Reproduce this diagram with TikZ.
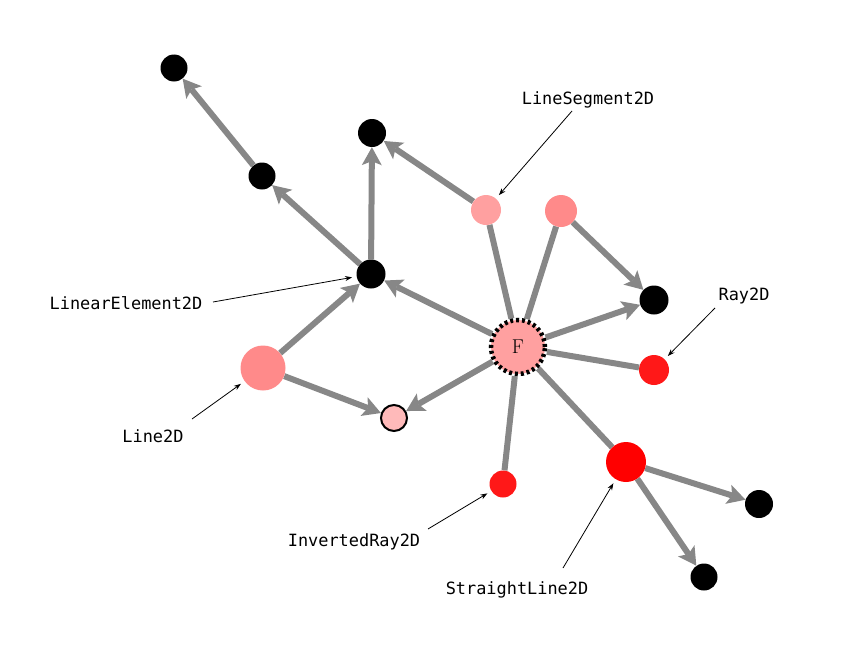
\documentclass[tikz,border=0pt]{standalone}
\usepackage{fontspec}
\newfontfamily\monof{DejaVu Sans Mono}
\usetikzlibrary{arrows.meta}
\definecolor{edgegray}{HTML}{878787}
\definecolor{lightpink}{HTML}{FFA0A0}
\definecolor{midpink}{HTML}{FF8A8A}
\definecolor{palepink}{HTML}{FFBABA}
\definecolor{redA}{HTML}{FF1818}
\definecolor{redB}{HTML}{FF0000}
\pgfdeclarelayer{bg}
\pgfsetlayers{bg,main}
\begin{document}
\begin{tikzpicture}[x=1pt,y=-1pt,
  vtx/.style={circle,inner sep=0pt,draw=none},
  blk/.style={vtx,fill=black,minimum size=27pt},
  edge/.style={draw=edgegray,line width=6pt,-{Stealth[length=18pt,width=20pt,inset=4pt,line width=0pt]}},
  plain/.style={draw=edgegray,line width=6pt},
  lbl/.style={font=\monof\fontsize{16.9}{20}\selectfont,inner sep=0pt,text height=12pt,text depth=0pt},
  pointer/.style={draw=black,line width=0.8pt,shorten >=4.5pt,-{Stealth[length=7pt,width=5pt]}}]
\useasboundingbox (0,0) rectangle (842,661);
% nodes
\node[blk] (n1) at (174,68) {};
\node[blk] (n2) at (262,176) {};
\node[blk,minimum size=28pt] (n3) at (372,133) {};
\node[blk,minimum size=29pt] (le) at (371,274) {};
\node[vtx,fill=lightpink,minimum size=30pt] (ls) at (486,210) {};
\node[vtx,fill=midpink,minimum size=32pt] (p2) at (561,211) {};
\node[blk,minimum size=29pt] (b4) at (654,300) {};
\node[circle,inner sep=0pt,minimum size=54pt,fill=lightpink,draw=black,line width=4.5pt,dash pattern=on 3pt off 2.9pt,font=\fontsize{20}{22}\selectfont] (F) at (518,347) {F};
\node[vtx,fill=redA,minimum size=30pt] (ray) at (654,370) {};
\node[vtx,fill=midpink,minimum size=45pt] (l2d) at (263,368) {};
\node[vtx,fill=palepink,draw=black,line width=2pt,minimum size=26pt] (out) at (394,418) {};
\node[vtx,fill=redA,minimum size=27pt] (ir) at (503,484) {};
\node[vtx,fill=redB,minimum size=40pt] (sl) at (626,462) {};
\node[blk,minimum size=28pt] (b5) at (759,504) {};
\node[blk] (b6) at (704,577) {};
% edges
\begin{pgfonlayer}{bg}
\draw[edge] (n2) -- (n1);
\draw[edge] (le) -- (n2);
\draw[edge] (le) -- (n3);
\draw[edge] (ls) -- (n3);
\draw[edge] (F) -- (le);
\draw[edge] (l2d) -- (le);
\draw[edge] (l2d) -- (out);
\draw[edge] (F) -- (out);
\draw[edge] (p2) -- (b4);
\draw[edge] (F) -- (b4);
\draw[edge] (sl) -- (b5);
\draw[edge] (sl) -- (b6);
\draw[plain] (ls) -- (F);
\draw[plain] (p2) -- (F);
\draw[plain] (ray) -- (F);
\draw[plain] (sl) -- (F);
\draw[plain] (ir) -- (F);
\end{pgfonlayer}
% labels
\node[lbl] (tLS) at (588,98) {LineSegment2D};
\node[lbl] (tLE) at (126,303) {LinearElement2D};
\node[lbl] (tRay) at (744,294) {Ray2D};
\node[lbl] (tL2) at (153,436) {Line2D};
\node[lbl] (tIR) at (354,540) {InvertedRay2D};
\node[lbl] (tSL) at (517,588) {StraightLine2D};
\coordinate (cLS) at (572,111);
\coordinate (cLE) at (213,302);
\coordinate (cRay) at (715,308);
\coordinate (cL2) at (192,419);
\coordinate (cIR) at (428,529);
\coordinate (cSL) at (563,568);
\draw[pointer] (cLS) -- (ls);
\draw[pointer] (cLE) -- (le);
\draw[pointer] (cRay) -- (ray);
\draw[pointer] (cL2) -- (l2d);
\draw[pointer] (cIR) -- (ir);
\draw[pointer] (cSL) -- (sl);
\end{tikzpicture}
\end{document}
